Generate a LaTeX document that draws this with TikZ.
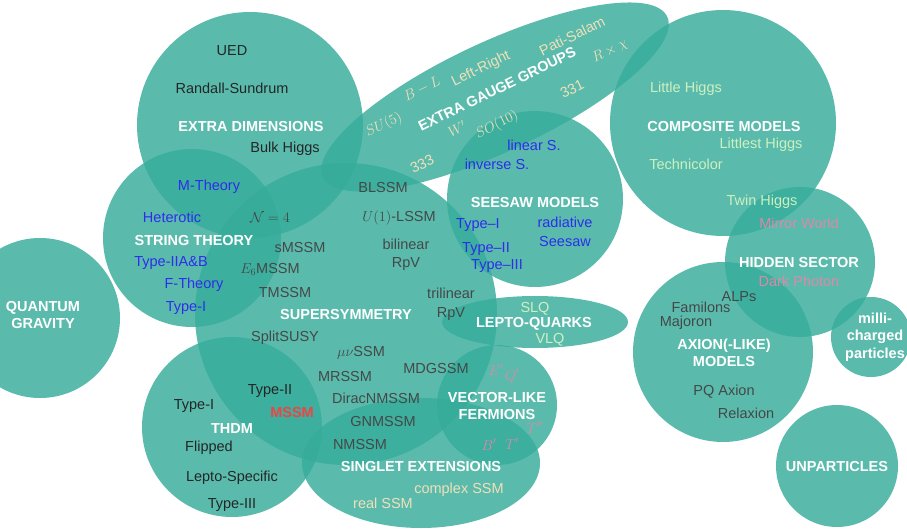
\documentclass[tikz,border=0pt]{standalone}
\usepackage{fontspec}
\setmainfont{Liberation Sans}
\usetikzlibrary{shapes.geometric}
\definecolor{blobc}{RGB}{54,172,155}
\definecolor{dkT}{RGB}{35,38,38}
\definecolor{grT}{RGB}{68,72,72}
\definecolor{blT}{RGB}{45,45,235}
\definecolor{crT}{RGB}{240,224,184}
\definecolor{lgT}{RGB}{205,240,192}
\definecolor{pkT}{RGB}{218,138,168}
\definecolor{rdT}{RGB}{238,68,68}
\begin{document}
\begin{tikzpicture}[x=1pt,y=-1pt,
  blob/.style={fill=blobc, fill opacity=0.82, draw=none, inner sep=0pt, outer sep=0pt},
  core/.style={font=\fontsize{14.5}{17.5}\selectfont, inner sep=0pt},
  lbl/.style={core, anchor=base, yshift=-5.2pt},
  mlbl/.style={core, anchor=center, align=center},
  rlbl/.style={core, anchor=center, rotate=26},
  bold/.style={font=\fontsize{14.5}{17.5}\selectfont\bfseries},
  ttl/.style={lbl, bold, text=white},
  mttl/.style={mlbl, bold, text=white},
  dk/.style={lbl, text=dkT},
  gr/.style={lbl, text=grT},
  bl/.style={lbl, text=blT},
  cr/.style={lbl, text=crT},
  lg/.style={lbl, text=lgT},
  pk/.style={lbl, text=pkT},
  rcr/.style={rlbl, text=crT}]
\clip (0,0) rectangle (907,529);
% ---------- shapes ----------
\node[blob,circle,minimum size=226pt] (ed) at (250,125) {};
\node[blob,circle,minimum size=178pt] (st) at (192,238) {};
\node[blob,circle,minimum size=302pt] (susy) at (346,314) {};
\node[blob,ellipse,minimum width=380pt,minimum height=110pt,rotate=25] (egg) at (495,97) {};
\node[blob,circle,minimum size=176pt] (see) at (535,199) {};
\node[blob,circle,minimum size=226pt] (comp) at (723,123) {};
\node[blob,circle,minimum size=150pt] (hid) at (800,262) {};
\node[blob,circle,minimum size=180pt] (ax) at (723,352) {};
\node[blob,circle,minimum size=80pt] (milli) at (871,337) {};
\node[blob,circle,minimum size=122pt] (unp) at (837,466) {};
\node[blob,circle,minimum size=160pt] (qg) at (40,318) {};
\node[blob,circle,minimum size=180pt] (thdm) at (232,427) {};
\node[blob,ellipse,minimum width=238pt,minimum height=130pt] (sing) at (421,463) {};
\node[blob,circle,minimum size=120pt] (vlf) at (497,405) {};
\node[blob,ellipse,minimum width=186pt,minimum height=52pt] (lq) at (535,322) {};
% ---------- extra dimensions ----------
\node[dk] (ued) at (232,50) {UED};
\node[dk] (rs) at (232,88) {Randall-Sundrum};
\node[ttl] (edT) at (251,126) {EXTRA DIMENSIONS};
\node[dk] (bh) at (285,147) {Bulk Higgs};
% ---------- string theory ----------
\node[bl] (mth) at (209,185) {M-Theory};
\node[bl] (het) at (172,217) {Heterotic};
\node[ttl] (stT) at (194,240) {STRING THEORY};
\node[bl] (t2ab) at (171,261) {Type-IIA\&B};
\node[bl] (fth) at (194,283) {F-Theory};
\node[bl] (t1s) at (186,306) {Type-I};
\node[gr] (n4) at (270,217) {$\mathcal{N}=4$};
% ---------- supersymmetry ----------
\node[gr] (blssm) at (383,187) {BLSSM};
\node[gr] (ulssm) at (399,216) {$U(1)$-LSSM};
\node[gr] (bil) at (406,244) {bilinear};
\node[gr] (rpv1) at (406,262) {RpV};
\node[gr] (smssm) at (300,247) {sMSSM};
\node[gr] (e6) at (270,268) {$E_6$MSSM};
\node[gr] (tmssm) at (285,292) {TMSSM};
\node[ttl] (susyT) at (346,314) {SUPERSYMMETRY};
\node[gr] (tril) at (451,293) {trilinear};
\node[gr] (rpv2) at (451,312) {RpV};
\node[gr] (split) at (285,336) {SplitSUSY};
\node[gr] (munu) at (361,351) {$\mu\nu$SSM};
\node[gr] (mrssm) at (345,376) {MRSSM};
\node[gr] (mdg) at (436,368) {MDGSSM};
\node[gr] (dirac) at (376,398) {DiracNMSSM};
\node[gr] (gnm) at (383,421) {GNMSSM};
\node[gr] (nm) at (360,444) {NMSSM};
% ---------- THDM ----------
\node[dk] (t2h) at (270,389) {Type-II};
\node[lbl, bold, text=rdT] (mssm) at (292,412) {MSSM};
\node[ttl] (thdmT) at (232,428) {THDM};
\node[dk] (t1h) at (194,404) {Type-I};
\node[dk] (flip) at (209,446) {Flipped};
\node[dk] (lepto) at (232,476) {Lepto-Specific};
\node[dk] (t3h) at (232,503) {Type-III};
% ---------- singlet ----------
\node[ttl] (singT) at (421,466) {SINGLET EXTENSIONS};
\node[cr] (cssm) at (459,488) {complex SSM};
\node[cr] (rssm) at (383,503) {real SSM};
% ---------- vector-like fermions ----------
\node[mttl] (vlfT) at (497,406) {VECTOR-LIKE\\FERMIONS};
\node[pk] (ep) at (496,370) {$E'$};
\node[pk] (qp) at (512,375) {$Q'$};
\node[pk] (tpp) at (535,428) {$T''$};
\node[pk] (bp) at (489,445) {$B'$};
\node[pk] (tp) at (512,444) {$T'$};
% ---------- lepto-quarks ----------
\node[lg] (slq) at (535,307) {SLQ};
\node[ttl] (lqT) at (534,322) {LEPTO-QUARKS};
\node[lg] (vlq) at (550,338) {VLQ};
% ---------- seesaw ----------
\node[bl] (lin) at (534,145) {linear S.};
\node[bl] (inv) at (497,164) {inverse S.};
\node[ttl] (seeT) at (535,202) {SEESAW MODELS};
\node[bl] (s1) at (478,223) {Type--I};
\node[bl] (rad) at (565,222) {radiative};
\node[bl] (ssw) at (565,241) {Seesaw};
\node[bl] (s2) at (486,247) {Type--II};
\node[bl] (s3) at (497,264) {Type--III};
% ---------- extra gauge groups ----------
\node[rlbl, bold, text=white] (eggT) at (497,89) {EXTRA GAUGE GROUPS};
\node[rcr] (su5) at (384,125) {$SU(5)$};
\node[rcr] (bml) at (422,89) {$B-L$};
\node[rcr] (lr) at (481,69) {Left-Right};
\node[rcr] (ps) at (572,36) {Pati-Salam};
\node[rcr] (rchi) at (610,51) {$R\times\chi$};
\node[rcr] (g331) at (572,89) {331};
\node[rcr] (wp) at (457,129) {$W'$};
\node[rcr] (so10) at (497,125) {$SO(10)$};
\node[rcr] (g333) at (422,164) {333};
% ---------- composite ----------
\node[lg] (lh) at (686,87) {Little Higgs};
\node[ttl] (compT) at (724,126) {COMPOSITE MODELS};
\node[lg] (llh) at (761,143) {Littlest Higgs};
\node[lg] (tc) at (686,164) {Technicolor};
\node[lg] (twin) at (762,200) {Twin Higgs};
% ---------- hidden sector ----------
\node[pk] (mw) at (799,223) {Mirror World};
\node[ttl] (hidT) at (799,262) {HIDDEN SECTOR};
\node[pk] (dp) at (799,281) {Dark Photon};
% ---------- axion ----------
\node[gr] (alps) at (739,296) {ALPs};
\node[gr] (fam) at (701,307) {Familons};
\node[gr] (maj) at (686,321) {Majoron};
\node[mttl] (axT) at (724,353) {AXION(-LIKE)\\MODELS};
\node[gr] (pq) at (724,390) {PQ Axion};
\node[gr] (relax) at (746,413) {Relaxion};
% ---------- others ----------
\node[mttl] (milliT) at (875,337) {milli-\\charged\\particles};
\node[ttl] (unpT) at (837,466) {UNPARTICLES};
\node[mttl] (qgT) at (43,315) {QUANTUM\\GRAVITY};
\end{tikzpicture}
\end{document}
